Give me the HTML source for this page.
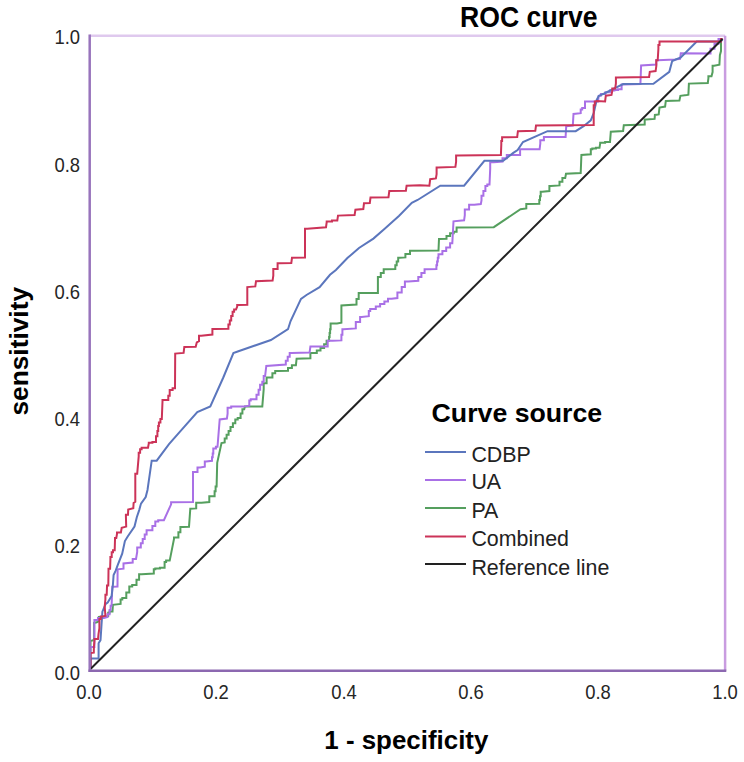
<!DOCTYPE html>
<html><head><meta charset="utf-8">
<style>
html,body{margin:0;padding:0;background:#fff;}
body{width:744px;height:762px;overflow:hidden;position:relative;font-family:"Liberation Sans",sans-serif;}
.tick{position:absolute;color:#262626;white-space:nowrap;line-height:1;}
svg text{font-family:"Liberation Sans",sans-serif;}
#wrap{position:absolute;left:0;top:0;width:744px;height:762px;background:#fff;}
</style></head><body><div id="wrap">
<svg width="744" height="762" style="position:absolute;left:0;top:0">
<path d="M90.5,669.0 L90.5,641.0 L94.1,640.0 L94.1,622.9 L96.8,622.3 L98.1,621.6 L98.8,616.9 L106.2,616.5 L108.2,616.2 L108.2,612.8 L109.5,612.8 L109.5,611.5 L112.5,611.5 L112.9,604.8 L120.6,603.9 L120.6,599.4 L122.3,599.4 L122.3,598.1 L126.3,598.1 L126.3,592.4 L129.3,592.4 L129.3,586.6 L132.2,586.6 L132.2,585.1 L136.5,585.1 L136.5,579.7 L139.1,579.7 L139.1,574.3 L141.6,574.3 L153.8,573.6 L153.8,569.3 L155.3,569.3 L155.3,568.5 L159.9,568.5 L159.9,567.8 L164.6,567.8 L164.6,562.0 L166.1,562.0 L166.1,560.6 L169.7,560.6 L174.0,539.0 L174.0,537.5 L178.4,537.5 L178.4,532.2 L180.4,532.2 L180.4,527.0 L182.5,527.0 L189.0,526.8 L190.3,508.7 L196.2,508.4 L196.2,502.8 L201.5,502.8 L209.3,502.1 L209.3,496.2 L214.6,496.2 L214.6,491.3 L215.6,491.3 L215.6,486.4 L216.6,486.4 L217.2,462.8 L221.5,443.1 L224.7,442.5 L224.7,438.6 L226.6,438.6 L226.6,434.8 L228.6,434.8 L228.6,430.9 L230.5,430.9 L230.5,427.1 L232.9,427.1 L232.9,423.2 L235.3,423.2 L235.3,419.4 L237.7,419.4 L237.7,418.0 L240.6,418.0 L240.6,413.6 L242.4,413.6 L242.4,409.3 L244.2,409.3 L244.9,406.4 L262.3,406.4 L263.7,389.1 L263.7,383.3 L266.6,383.3 L266.6,377.5 L272.4,377.5 L272.4,373.2 L275.2,373.2 L275.2,371.0 L277.9,371.0 L288.0,370.7 L288.0,367.9 L291.9,367.9 L291.9,365.2 L295.9,365.2 L296.6,358.7 L310.4,358.3 L310.4,353.0 L316.8,353.0 L316.8,350.4 L320.5,350.4 L320.5,347.9 L324.1,347.9 L324.1,344.3 L326.6,344.3 L326.6,340.7 L329.1,340.7 L329.1,336.9 L329.6,336.9 L329.6,333.0 L330.1,333.0 L330.1,329.2 L330.6,329.2 L330.6,323.4 L337.0,323.4 L341.4,322.7 L341.4,305.4 L356.5,304.6 L356.5,298.9 L358.7,298.9 L358.7,293.1 L363.0,293.1 L377.9,293.1 L377.9,280.8 L377.9,277.0 L380.8,277.0 L380.8,273.1 L383.7,273.1 L383.7,269.3 L386.6,269.3 L395.3,269.0 L395.3,265.2 L396.7,265.2 L396.7,261.5 L398.2,261.5 L398.2,257.7 L399.6,257.7 L405.4,257.4 L405.4,254.1 L410.0,254.1 L410.0,250.8 L414.7,250.8 L438.5,250.5 L439.0,239.0 L446.5,238.7 L446.5,235.9 L450.1,235.9 L450.1,233.2 L453.7,233.2 L453.7,231.7 L456.6,231.7 L456.6,227.4 L458.0,227.4 L493.8,227.2 L520.5,209.2 L526.3,208.4 L526.3,204.1 L527.7,204.1 L539.3,203.7 L539.3,199.9 L540.0,199.9 L540.0,196.2 L540.7,196.2 L540.7,191.8 L542.2,191.8 L549.4,191.1 L549.4,186.1 L550.8,186.1 L559.5,185.4 L559.5,181.8 L562.4,181.8 L562.4,178.1 L565.2,178.1 L566.0,173.8 L580.7,173.1 L581.4,155.0 L590.8,154.3 L590.8,149.3 L592.3,149.3 L592.3,148.6 L595.9,148.6 L595.9,147.8 L599.5,147.8 L600.2,143.5 L600.2,142.8 L605.1,142.8 L605.1,142.0 L610.0,142.0 L610.8,131.7 L623.1,131.0 L623.8,125.2 L644.7,124.5 L644.7,119.5 L646.2,119.5 L654.6,118.9 L654.9,114.9 L658.7,114.4 L659.5,107.6 L665.1,106.6 L665.8,101.0 L679.4,100.6 L680.4,95.8 L686.8,95.0 L688.4,94.6 L688.9,83.6 L707.8,83.0 L708.4,78.3 L708.4,76.2 L711.5,76.2 L712.6,72.0 L712.6,65.7 L714.1,65.7 L719.4,64.7 L719.9,55.2 L721.0,51.0 L721.0,40.5 L721.0,39.0 L722.5,39.0" fill="none" stroke="#559f5e" stroke-width="2"/>
<path d="M90.5,669.0 L90.5,647.0 L94.4,647.0 L94.4,622.6 L94.4,620.0 L98.0,620.0 L98.0,618.0 L104.0,618.0 L107.5,616.9 L107.5,614.3 L109.6,614.3 L109.6,610.0 L110.6,610.0 L110.6,605.8 L111.6,605.8 L112.3,586.8 L117.5,586.5 L117.6,569.3 L123.5,568.7 L123.5,563.4 L132.7,562.5 L132.7,558.9 L136.0,558.9 L137.2,551.9 L137.2,547.6 L140.8,547.6 L140.8,543.3 L142.7,543.3 L142.7,538.9 L144.7,538.9 L144.7,534.6 L146.6,534.6 L146.6,530.3 L152.4,530.3 L152.4,526.0 L155.3,526.0 L155.3,521.6 L158.2,521.6 L158.2,520.2 L163.9,520.2 L171.1,504.3 L171.1,502.2 L172.6,502.2 L193.0,502.1 L193.0,473.3 L193.0,472.0 L197.5,472.0 L197.5,467.4 L200.2,467.4 L204.8,466.7 L204.8,461.5 L206.1,461.5 L212.0,460.8 L212.0,457.2 L212.7,457.2 L212.7,453.6 L213.3,453.6 L213.3,448.4 L215.9,448.4 L215.9,446.8 L217.5,446.8 L219.7,419.4 L226.9,418.6 L227.6,413.6 L227.6,407.8 L231.2,407.8 L231.2,406.4 L232.7,406.4 L244.2,406.4 L249.3,405.7 L249.3,400.6 L250.7,400.6 L250.7,399.2 L256.5,399.2 L256.5,394.8 L258.6,394.8 L258.6,389.8 L260.1,389.8 L260.1,384.7 L262.3,384.7 L262.3,381.8 L263.7,381.8 L263.7,376.1 L265.1,376.1 L266.3,366.0 L285.8,364.5 L285.8,360.7 L287.7,360.7 L287.7,356.8 L289.7,356.8 L289.7,353.0 L291.6,353.0 L309.6,352.5 L310.4,346.5 L327.7,346.5 L327.7,340.7 L332.7,340.7 L341.4,340.4 L341.4,334.8 L342.4,334.8 L342.4,329.2 L343.5,329.2 L355.8,328.4 L355.8,322.0 L360.1,322.0 L360.1,316.9 L361.6,316.9 L368.8,316.2 L368.8,311.1 L370.2,311.1 L370.2,308.9 L375.8,308.9 L375.8,306.4 L380.1,306.4 L380.1,303.9 L384.4,303.9 L384.4,301.4 L388.0,301.4 L388.0,298.8 L391.6,298.8 L397.4,298.1 L397.4,292.4 L401.7,292.4 L401.7,286.9 L404.9,286.9 L404.9,281.5 L408.2,281.5 L418.3,280.8 L418.3,277.0 L421.4,277.0 L421.4,273.1 L424.6,273.1 L424.6,269.3 L427.7,269.3 L436.4,269.0 L436.4,265.2 L437.1,265.2 L437.1,261.5 L437.8,261.5 L437.8,257.7 L438.5,257.7 L438.5,254.3 L442.4,254.3 L442.4,251.0 L446.2,251.0 L446.2,247.6 L450.1,247.6 L450.1,243.3 L452.3,243.3 L453.5,221.3 L464.1,220.3 L464.8,215.2 L464.8,209.5 L469.1,209.5 L469.1,204.8 L474.3,204.8 L480.8,204.1 L481.5,200.5 L481.5,195.7 L483.4,195.7 L483.4,190.9 L485.4,190.9 L485.4,186.1 L487.3,186.1 L487.3,184.6 L489.5,184.6 L490.2,168.8 L490.2,162.3 L493.8,162.3 L502.5,161.5 L502.5,158.3 L506.8,158.3 L506.8,155.1 L511.1,155.1 L520.1,155.0 L520.1,149.3 L521.5,149.3 L539.6,149.3 L540.3,143.5 L540.3,140.2 L543.9,140.2 L543.9,137.0 L547.5,137.0 L565.6,137.0 L566.2,126.2 L572.8,125.5 L573.5,113.9 L580.7,113.2 L580.7,109.6 L582.2,109.6 L582.2,108.1 L585.0,108.1 L585.0,101.6 L587.2,101.6 L598.0,101.4 L598.7,95.9 L600.9,95.6 L600.9,93.9 L605.4,93.9 L605.4,92.3 L609.9,92.3 L609.9,90.6 L614.4,90.6 L614.4,89.9 L618.0,89.9 L618.0,89.2 L621.6,89.2 L621.6,84.5 L623.1,84.5 L640.4,84.1 L641.1,65.4 L656.3,64.6 L656.3,60.3 L657.7,60.3 L675.0,59.6 L680.1,58.9 L680.8,53.3 L710.5,53.5 L710.5,48.7 L714.5,48.7 L714.5,43.8 L718.5,43.8 L718.5,39.0 L722.5,39.0" fill="none" stroke="#a970e6" stroke-width="2"/>
<path d="M90.5,669.0 L90.5,658.4 L98.6,658.4 L98.6,643.3 L100.5,640.1 L101.5,625.0 L102.4,611.7 L105.7,603.9 L107.7,602.5 L111.6,596.0 L112.9,584.8 L113.6,575.0 L115.7,570.7 L117.6,565.4 L122.2,553.6 L124.9,541.1 L127.7,536.5 L134.5,526.6 L136.8,517.2 L139.2,510.1 L141.0,503.6 L145.7,497.1 L147.5,490.0 L151.7,460.7 L156.7,460.7 L169.0,444.1 L180.0,431.6 L197.3,412.2 L210.3,406.4 L223.3,377.5 L233.4,353.0 L237.7,351.5 L270.9,340.0 L288.0,329.2 L290.6,321.0 L301.0,298.9 L306.5,295.0 L319.6,287.2 L330.0,274.8 L335.9,270.0 L347.4,258.1 L359.0,248.0 L373.4,238.6 L384.4,228.9 L398.9,215.9 L411.8,202.9 L417.6,200.0 L440.3,185.7 L464.1,185.7 L484.4,160.8 L503.2,160.8 L513.3,152.9 L517.6,150.0 L523.0,142.0 L547.5,131.2 L575.7,131.2 L583.6,126.2 L590.8,120.4 L593.7,113.2 L596.6,100.2 L598.7,95.9 L604.3,93.5 L614.4,88.4 L623.1,84.1 L653.4,83.7 L669.3,71.8 L672.2,61.0 L680.8,57.4 L689.5,48.8 L696.7,41.5 L721.0,41.5 L722.5,39.0" fill="none" stroke="#5b76bd" stroke-width="2"/>
<path d="M90.5,669.0 L90.5,653.0 L93.8,652.7 L93.9,647.0 L94.4,641.4 L94.4,639.1 L98.0,639.1 L98.5,634.1 L99.4,628.1 L99.4,623.5 L99.4,618.9 L100.8,618.9 L100.8,616.6 L102.2,616.6 L105.4,615.7 L104.7,606.5 L105.4,599.3 L105.4,594.7 L106.7,594.7 L107.0,586.8 L107.0,585.5 L108.3,585.5 L108.5,570.7 L108.5,568.7 L110.1,568.7 L110.4,559.5 L110.4,556.9 L111.7,556.9 L111.7,552.3 L113.0,552.3 L113.0,550.3 L114.7,550.3 L115.0,539.8 L115.0,537.9 L116.3,537.9 L117.0,533.9 L117.0,532.5 L120.9,532.5 L121.7,527.8 L126.2,526.6 L125.9,516.0 L125.9,514.8 L128.0,514.8 L128.2,509.5 L133.3,508.3 L133.6,503.0 L135.3,501.8 L135.3,479.5 L135.3,473.7 L137.2,473.7 L138.7,456.4 L138.7,452.8 L140.1,452.8 L140.1,449.2 L141.6,449.2 L141.6,447.7 L148.0,447.7 L148.8,443.4 L148.8,442.7 L152.4,442.7 L152.4,442.0 L156.0,442.0 L156.0,436.2 L157.4,436.2 L157.4,431.1 L158.2,431.1 L158.2,426.1 L158.9,426.1 L158.9,422.5 L160.4,422.5 L160.4,418.9 L161.8,418.9 L162.5,401.5 L162.5,400.1 L168.3,400.1 L168.3,395.8 L169.7,395.8 L169.7,390.0 L172.6,390.0 L172.6,388.2 L175.0,388.2 L175.2,353.6 L183.6,352.9 L184.3,347.1 L195.7,346.8 L196.8,342.4 L199.0,341.2 L199.0,335.7 L201.2,335.7 L212.4,334.6 L212.4,329.1 L215.1,329.1 L228.4,328.8 L228.4,324.6 L229.8,324.6 L229.8,320.4 L231.2,320.4 L231.2,316.0 L232.6,316.0 L232.6,311.7 L234.1,311.7 L234.1,309.6 L236.0,309.6 L237.2,306.6 L237.2,305.1 L238.7,305.1 L247.3,304.8 L247.3,287.1 L255.3,286.4 L256.0,281.3 L272.6,280.6 L273.3,275.6 L273.3,269.1 L277.6,269.1 L277.6,263.3 L279.8,263.3 L291.3,263.0 L292.0,257.8 L305.0,257.5 L305.0,234.4 L305.0,228.7 L307.2,228.7 L326.0,227.2 L326.7,222.2 L326.7,221.4 L332.0,221.4 L332.0,220.6 L337.3,220.6 L338.0,215.6 L354.6,215.1 L355.4,209.8 L363.3,209.1 L364.0,203.3 L369.8,203.0 L370.5,197.5 L388.5,197.2 L389.3,191.0 L405.9,190.7 L406.6,185.7 L420.0,185.3 L429.4,185.7 L430.2,179.2 L435.9,178.4 L436.6,174.1 L436.6,167.6 L438.1,167.6 L455.4,166.9 L456.1,161.8 L456.1,155.4 L457.6,155.4 L500.9,154.9 L501.3,144.5 L501.3,140.9 L502.1,140.9 L502.1,137.3 L503.0,137.3 L517.2,137.0 L517.9,131.2 L535.3,130.8 L536.0,125.5 L593.7,125.0 L593.7,108.9 L593.7,105.2 L594.8,105.2 L594.8,101.6 L595.9,101.6 L596.6,100.9 L605.1,101.4 L605.8,95.7 L611.5,94.9 L612.3,90.6 L612.3,88.4 L615.2,88.4 L615.9,83.4 L615.9,77.6 L617.3,77.6 L649.1,76.9 L649.8,71.8 L655.6,71.1 L656.3,66.1 L656.3,60.3 L657.7,60.3 L658.4,48.8 L658.4,45.1 L659.5,45.1 L659.5,41.5 L660.6,41.5 L721.0,41.5 L721.0,39.0 L722.5,39.0" fill="none" stroke="#cc3358" stroke-width="2"/>

<line x1="90.5" y1="669.0" x2="722.5" y2="39.0" stroke="#222222" stroke-width="2"/>
<line x1="89.7" y1="35.8" x2="725.1" y2="35.8" stroke="#dfc9ee" stroke-width="2.5"/>
<line x1="725.1" y1="35.8" x2="725.1" y2="670.7" stroke="#c99ce0" stroke-width="2.5"/>
<line x1="89.7" y1="34.6" x2="89.7" y2="671.9" stroke="#9874bc" stroke-width="2.5"/>
<line x1="88.5" y1="670.7" x2="726.3" y2="670.7" stroke="#8c68b0" stroke-width="2.5"/>
<line x1="425" y1="452" x2="466" y2="452" stroke="#5b76bd" stroke-width="2"/>
<line x1="425" y1="480" x2="466" y2="480" stroke="#a970e6" stroke-width="2"/>
<line x1="425" y1="508" x2="466" y2="508" stroke="#559f5e" stroke-width="2"/>
<line x1="425" y1="536.5" x2="466" y2="536.5" stroke="#cc3358" stroke-width="2"/>
<line x1="425" y1="564" x2="466" y2="564" stroke="#222222" stroke-width="2"/>
<text transform="translate(460.1,27.0) scale(1,1.085)" font-size="26.6" font-weight="bold" fill="#000">ROC curve</text>
<text transform="translate(324.3,749.3) scale(1,1.0)" font-size="25.9" font-weight="bold" fill="#000">1 - specificity</text>
<text transform="translate(28.0,415.6) rotate(-90) scale(1,1.0)" font-size="26.3" font-weight="bold" fill="#000">sensitivity</text>
<text transform="translate(431.6,422.0) scale(1,1.0)" font-size="26.7" font-weight="bold" fill="#000">Curve source</text>
<text transform="translate(471.4,462.3) scale(1,1.04)" font-size="21.4" fill="#222">CDBP</text>
<text transform="translate(471.4,489.0) scale(1,1.04)" font-size="21.4" fill="#222">UA</text>
<text transform="translate(471.4,517.8) scale(1,1.04)" font-size="21.4" fill="#222">PA</text>
<text transform="translate(471.4,546.2) scale(1,1.04)" font-size="21.4" fill="#222">Combined</text>
<text transform="translate(471.4,574.8) scale(1,1.04)" font-size="21.4" fill="#222">Reference line</text>
</svg>
<div class="tick" style="left:59.1px;width:60px;text-align:center;top:681.5px;font-size:20px;transform:scaleX(0.92);">0.0</div>
<div class="tick" style="left:19.8px;width:60px;text-align:right;top:662.7px;font-size:20px;transform-origin:100% 50%;transform:scaleX(0.92);">0.0</div>
<div class="tick" style="left:186.3px;width:60px;text-align:center;top:681.5px;font-size:20px;transform:scaleX(0.92);">0.2</div>
<div class="tick" style="left:19.8px;width:60px;text-align:right;top:535.6px;font-size:20px;transform-origin:100% 50%;transform:scaleX(0.92);">0.2</div>
<div class="tick" style="left:313.5px;width:60px;text-align:center;top:681.5px;font-size:20px;transform:scaleX(0.92);">0.4</div>
<div class="tick" style="left:19.8px;width:60px;text-align:right;top:408.6px;font-size:20px;transform-origin:100% 50%;transform:scaleX(0.92);">0.4</div>
<div class="tick" style="left:440.7px;width:60px;text-align:center;top:681.5px;font-size:20px;transform:scaleX(0.92);">0.6</div>
<div class="tick" style="left:19.8px;width:60px;text-align:right;top:281.5px;font-size:20px;transform-origin:100% 50%;transform:scaleX(0.92);">0.6</div>
<div class="tick" style="left:567.9px;width:60px;text-align:center;top:681.5px;font-size:20px;transform:scaleX(0.92);">0.8</div>
<div class="tick" style="left:19.8px;width:60px;text-align:right;top:154.5px;font-size:20px;transform-origin:100% 50%;transform:scaleX(0.92);">0.8</div>
<div class="tick" style="left:695.1px;width:60px;text-align:center;top:681.5px;font-size:20px;transform:scaleX(0.92);">1.0</div>
<div class="tick" style="left:19.8px;width:60px;text-align:right;top:27.4px;font-size:20px;transform-origin:100% 50%;transform:scaleX(0.92);">1.0</div>
</div></body></html>
